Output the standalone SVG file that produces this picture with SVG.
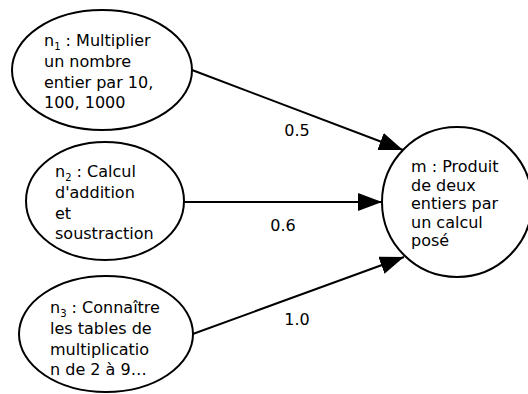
<svg xmlns="http://www.w3.org/2000/svg" width="528" height="394" viewBox="0 0 528 394">
<style>
.node ellipse{fill:#fff;stroke:#000;stroke-width:2}
text{font-family:"DejaVu Sans","Liberation Sans",sans-serif;font-size:16px;fill:#000}
.sub{font-size:10px}
.edge line{stroke:#000;stroke-width:2;fill:none}
.lbl{text-anchor:middle}
</style>
<defs>
<marker id="arr" markerUnits="userSpaceOnUse" markerWidth="26" markerHeight="20" refX="24" refY="9" orient="auto">
<path d="M0,0 L24,9 L0,18 Z" fill="#000"/>
</marker>
</defs>
<rect width="528" height="394" fill="#fff"/>
<g id="edges" class="edge">
<line x1="192" y1="70" x2="403" y2="150" marker-end="url(#arr)"/>
<line x1="184" y1="202" x2="382" y2="202" marker-end="url(#arr)"/>
<line x1="190" y1="335" x2="404" y2="257" marker-end="url(#arr)"/>
<text class="lbl" x="297" y="136">0.5</text>
<text class="lbl" x="283" y="231">0.6</text>
<text class="lbl" x="297" y="325">1.0</text>
</g>
<g id="n1" class="node">
<ellipse cx="102" cy="70" rx="90" ry="60"/>
<text x="44" y="46">n<tspan class="sub" dy="4">1</tspan><tspan dy="-4"> : Multiplier</tspan></text>
<text x="44" y="67">un nombre</text>
<text x="44" y="88">entier par 10,</text>
<text x="44" y="108">100, 1000</text>
</g>
<g id="n2" class="node">
<ellipse cx="105" cy="201" rx="79" ry="59"/>
<text x="55" y="177">n<tspan class="sub" dy="4">2</tspan><tspan dy="-4"> : Calcul</tspan></text>
<text x="55" y="198">d'addition</text>
<text x="55" y="219">et</text>
<text x="55" y="239">soustraction</text>
</g>
<g id="n3" class="node">
<ellipse cx="106" cy="334" rx="87" ry="58"/>
<text x="50" y="313">n<tspan class="sub" dy="4">3</tspan><tspan dy="-4"> : Connaître</tspan></text>
<text x="50" y="334">les tables de</text>
<text x="50" y="355">multiplicatio</text>
<text x="50" y="375">n de 2 à 9…</text>
</g>
<g id="m" class="node">
<ellipse cx="457" cy="202" rx="75" ry="75"/>
<text x="411" y="172">m : Produit</text>
<text x="411" y="191">de deux</text>
<text x="411" y="209">entiers par</text>
<text x="411" y="228">un calcul</text>
<text x="411" y="246">posé</text>
</g>
</svg>
